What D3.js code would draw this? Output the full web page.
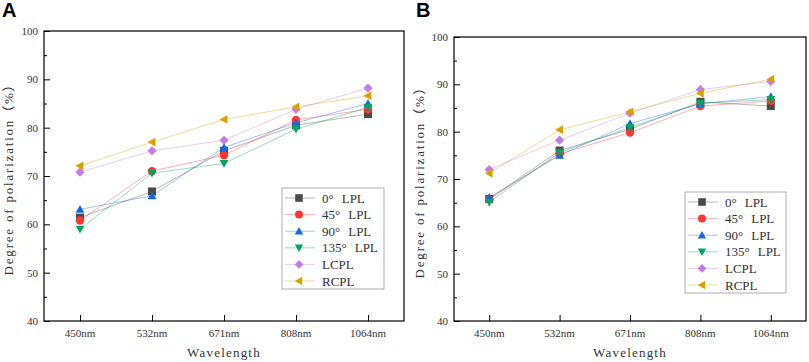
<!DOCTYPE html>
<html>
<head>
<meta charset="utf-8">
<script src="https://cdn.jsdelivr.net/npm/d3@7"></script>
<style>
  body { margin: 0; background: #fff; }
  svg text { font-family: "Liberation Serif", "DejaVu Serif", "Noto Sans CJK SC", serif; }
</style>
</head>
<body>
<svg id="chart" width="809" height="362"></svg>
<script>
// wavelengths on the x axis
var wavelengths = ["450nm", "532nm", "671nm", "808nm", "1064nm"];
var seriesNames = ["0° LPL", "45° LPL", "90° LPL", "135° LPL", "LCPL", "RCPL"];
var yTicks = [40, 50, 60, 70, 80, 90, 100];

// panel A values (degree of polarization, %)
var a_lpl0   = [61.4, 66.8, 75.2, 80.5, 82.8];
var a_lpl45  = [60.8, 71.0, 74.3, 81.6, 83.8];
var a_lpl90  = [63.1, 65.9, 75.9, 81.0, 85.0];
var a_lpl135 = [59.0, 70.6, 72.6, 79.7, 84.2];
var a_lcpl   = [70.8, 75.2, 77.4, 83.8, 88.2];
var a_rcpl   = [72.1, 77.0, 81.7, 84.3, 86.6];

// panel B values
var b_lpl0   = [65.8, 76.0, 80.5, 86.3, 85.4];
var b_lpl45  = [65.7, 75.3, 79.8, 85.4, 86.5];
var b_lpl90  = [66.1, 75.0, 81.7, 85.9, 87.4];
var b_lpl135 = [65.1, 75.6, 80.9, 86.0, 86.8];
var b_lcpl   = [72.0, 78.2, 83.9, 88.9, 90.6];
var b_rcpl   = [71.2, 80.4, 84.2, 88.1, 91.1];

var colors = ["#4a4a4a", "#ff3535", "#1668e0", "#00a562", "#c47ce2", "#d9a100"];
var symbols = ["square", "circle", "up", "down", "diamond", "left"];

var svg = d3.select("#chart");

function markerPath(type, s) {
    // s = half size
    if (type == "square")
        return "M" + (-s) + "," + (-s) + "h" + (2 * s) + "v" + (2 * s) + "h" + (-2 * s) + "Z";
    if (type == "circle")
        return d3.symbol().type(d3.symbolCircle).size(Math.PI * s * s * 1.1)();
    if (type == "up")
        return "M0," + (-s * 1.1) + "L" + (s * 1.1) + "," + (s * 0.85) + "L" + (-s * 1.1) + "," + (s * 0.85) + "Z";
    if (type == "down")
        return "M0," + (s * 1.1) + "L" + (s * 1.1) + "," + (-s * 0.85) + "L" + (-s * 1.1) + "," + (-s * 0.85) + "Z";
    if (type == "diamond")
        return "M0," + (-s * 1.15) + "L" + (s * 1.15) + ",0L0," + (s * 1.15) + "L" + (-s * 1.15) + ",0Z";
    if (type == "left")
        return "M" + (-s * 1.1) + ",0L" + (s * 0.85) + "," + (-s * 1.1) + "L" + (s * 0.85) + "," + (s * 1.1) + "Z";
}

function drawPanel(opt) {
    var g = svg.append("g");
    var x = d3.scalePoint().domain(wavelengths).range([opt.left, opt.right]).padding(0.5);
    var y = d3.scaleLinear().domain([40, 100]).range([opt.bottom, opt.top]);

    // panel letter
    svg.append("text")
        .attr("x", opt.letterX).attr("y", 17)
        .style("font-family", "Liberation Sans, Arial, sans-serif")
        .style("font-weight", "bold")
        .style("font-size", "20px")
        .text(opt.letter);

    // frame
    g.append("rect")
        .attr("x", opt.left).attr("y", opt.top)
        .attr("width", opt.right - opt.left).attr("height", opt.bottom - opt.top)
        .attr("fill", "none").attr("stroke", "#000").attr("stroke-width", 1.2);

    // y axis ticks (inward)
    var yAxis = d3.axisRight(y).tickValues(yTicks).tickSize(6).tickFormat("");
    g.append("g").attr("transform", "translate(" + opt.left + ",0)").call(yAxis)
        .call(s => s.select(".domain").remove());
    var yMinor = d3.axisRight(y).tickValues(d3.range(45, 100, 10)).tickSize(3).tickFormat("");
    g.append("g").attr("transform", "translate(" + opt.left + ",0)").call(yMinor)
        .call(s => s.select(".domain").remove());
    g.selectAll(".tick line").attr("stroke", "#000");

    g.selectAll(".ylab").data(yTicks).enter().append("text")
        .attr("x", opt.left - 6).attr("y", d => y(d) + 4)
        .attr("text-anchor", "end")
        .style("font-size", "11px").attr("fill", "#333")
        .text(d => d);

    // x axis ticks (inward)
    var xAxis = d3.axisTop(x).tickSize(6).tickFormat("");
    g.append("g").attr("transform", "translate(0," + opt.bottom + ")").call(xAxis)
        .call(s => s.select(".domain").remove())
        .selectAll(".tick line").attr("stroke", "#000");

    g.selectAll(".xlab").data(wavelengths).enter().append("text")
        .attr("x", d => x(d)).attr("y", opt.bottom + 16)
        .attr("text-anchor", "middle")
        .style("font-size", "11px").attr("fill", "#333")
        .text(d => d);

    // axis titles
    g.append("text")
        .attr("x", (opt.left + opt.right) / 2).attr("y", 357)
        .attr("text-anchor", "middle")
        .style("font-size", "13px").style("letter-spacing", "1.2px").attr("fill", "#333")
        .text("Wavelength");
    g.append("text")
        .attr("transform", "translate(" + opt.titleX + "," + ((opt.top + opt.bottom) / 2) + ") rotate(-90)")
        .attr("text-anchor", "middle")
        .style("font-size", "13px").style("letter-spacing", "1.8px").attr("fill", "#333")
        .text("Degree of polarization（%）");

    var line = d3.line().x((d, i) => x(wavelengths[i])).y(d => y(d));

    // lines first, markers on top
    opt.series.forEach(function(vals, k) {
        g.append("path").datum(vals)
            .attr("d", line)
            .attr("fill", "none")
            .attr("stroke", colors[k]).attr("stroke-opacity", 0.4)
            .attr("stroke-width", 1);
    });
    opt.series.forEach(function(vals, k) {
        g.selectAll(null).data(vals).enter().append("path")
            .attr("transform", (d, i) => "translate(" + x(wavelengths[i]) + "," + y(d) + ")")
            .attr("d", markerPath(symbols[k], 4))
            .attr("fill", colors[k]);
    });

    // legend
    var lg = g.append("g");
    lg.append("rect")
        .attr("x", opt.legX).attr("y", opt.legY)
        .attr("width", opt.legW).attr("height", 101)
        .attr("fill", "#fff").attr("stroke", "#999").attr("stroke-width", 0.8);
    seriesNames.forEach(function(name, k) {
        var cy = opt.legY + 10 + k * 16.6;
        lg.append("line")
            .attr("x1", opt.legX + 3).attr("x2", opt.legX + 33)
            .attr("y1", cy).attr("y2", cy)
            .attr("stroke", colors[k]).attr("stroke-opacity", 0.4);
        lg.append("path")
            .attr("transform", "translate(" + (opt.legX + 17) + "," + cy + ")")
            .attr("d", markerPath(symbols[k], 3.8))
            .attr("fill", colors[k]);
        // the degree sign is full width in the original, so widen the gap after it
        var parts = name.split("° ");
        var t = lg.append("text")
            .attr("x", opt.legX + 40).attr("y", cy + 4.5)
            .style("font-size", "13px").attr("fill", "#333");
        if (parts.length == 2) {
            t.append("tspan").text(parts[0] + "°");
            t.append("tspan").attr("dx", 8).text(parts[1]);
        } else {
            t.text(name);
        }
    });
}

drawPanel({
    letter: "A", letterX: 2,
    left: 44, right: 404, top: 31, bottom: 321, titleX: 13,
    legX: 282, legY: 188, legW: 102,
    series: [a_lpl0, a_lpl45, a_lpl90, a_lpl135, a_lcpl, a_rcpl]
});
drawPanel({
    letter: "B", letterX: 416,
    left: 454, right: 806, top: 37, bottom: 321, titleX: 424,
    legX: 685, legY: 192, legW: 101,
    series: [b_lpl0, b_lpl45, b_lpl90, b_lpl135, b_lcpl, b_rcpl]
});
</script>
</body>
</html>
